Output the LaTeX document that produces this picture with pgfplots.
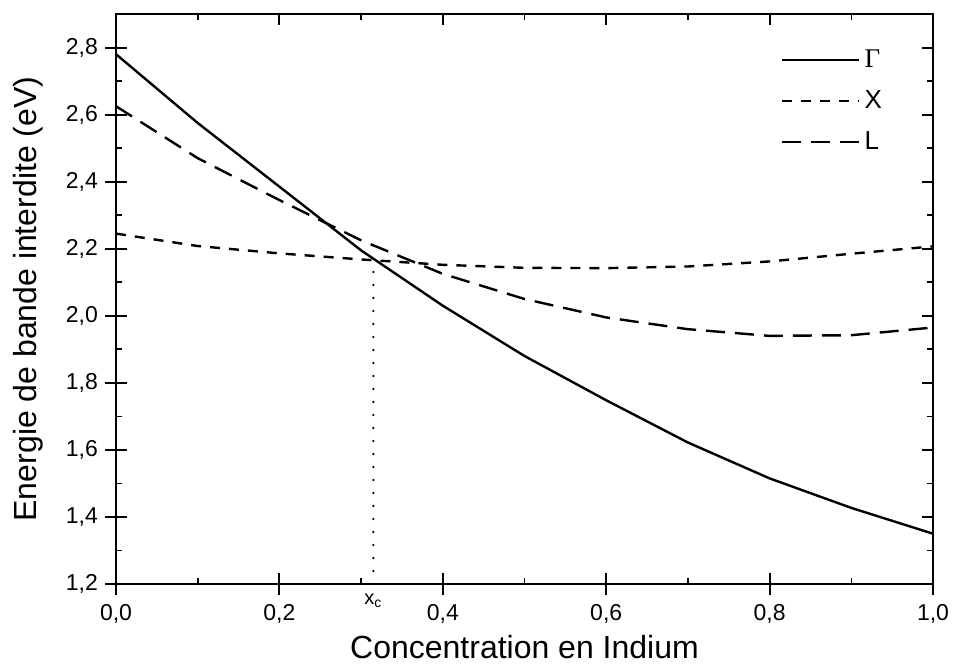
\documentclass[border=0pt]{standalone}
\usepackage{fontspec}
\setmainfont{Liberation Sans}
\newfontfamily\seriffont{Liberation Serif}
\usepackage{pgfplots}
\usepackage{pgfplotstable}
\pgfplotsset{compat=1.18}

\pgfplotstableread{
x    G      X      L
0.0  2.780  2.245  2.625
0.1  2.575  2.208  2.470
0.2  2.385  2.186  2.345
0.3  2.195  2.168  2.225
0.4  2.030  2.152  2.125
0.5  1.880  2.143  2.050
0.6  1.748  2.142  1.995
0.7  1.622  2.147  1.960
0.8  1.515  2.162  1.940
0.9  1.427  2.185  1.942
1.0  1.350  2.207  1.965
}\gaptable

\pgfplotsset{
  common/.style={
    scale only axis,
    width=408.5pt, height=285pt,
    xmin=0, xmax=1, ymin=1.2, ymax=2.9,
    xtick={0,0.2,0.4,0.6,0.8,1.0},
    ytick={1.2,1.4,1.6,1.8,2.0,2.2,2.4,2.6,2.8},
    axis line style={line width=1pt},
    major tick style={line width=1pt, black},
    minor tick style={line width=0.8pt, black},
    major tick length=5.5pt,
    minor tick length=3pt,
  }
}

\begin{document}
\begin{tikzpicture}
\useasboundingbox (-58pt,-40pt) rectangle (420pt,292pt);
% outside half of major ticks on bottom and left
\begin{axis}[common,
  axis x line*=bottom, axis y line*=left,
  tick align=outside,
  xticklabels={}, yticklabels={},
  minor tick num=0,
]
\end{axis}
\begin{axis}[common,
  tick align=inside,
  minor x tick num=1, minor y tick num=1,
  /pgf/number format/use comma,
  /pgf/number format/fixed,
  /pgf/number format/fixed zerofill,
  /pgf/number format/precision=1,
  /pgf/number format/assume math mode=true,
  ticklabel style={font=\fontsize{11.5}{13}\selectfont},
  xticklabel style={yshift=-6.5pt},
  yticklabel style={xshift=-5.5pt},
  extra x ticks={0.315},
  extra x tick labels={x\textsubscript{c}},
  extra x tick style={major tick length=0pt, grid=none,
    tick label style={yshift=5pt, font=\fontsize{10}{12}\selectfont}},
  xlabel={Concentration en Indium},
  xlabel style={at={(axis description cs:0.5,-0.111)}, anchor=center, font=\fontsize{16}{19}\selectfont},
  ylabel={Energie de bande interdite (eV)},
  ylabel style={at={(axis description cs:-0.1077,0.5)}, anchor=center, font=\fontsize{16}{19}\selectfont},
  legend style={draw=none, fill=none, at={(axis description cs:0.943,0.945)}, anchor=north east,
    font=\fontsize{13}{15}\selectfont, row sep=6pt, inner sep=0pt},
  legend cell align=left,
  legend image code/.code={\draw[#1] (0pt,0pt) -- (38.5pt,0pt);},
]
\addplot[black, line width=1.2pt] table[x=x, y=G] {\gaptable};
\addlegendentry{{\seriffont\fontsize{13.5}{15}\selectfont Γ}}
\addplot[black, line width=1.2pt, dash pattern=on 5pt off 4.5pt] table[x=x, y=X] {\gaptable};
\addlegendentry{X}
\addplot[black, line width=1.2pt, dash pattern=on 9.5pt off 5pt] table[x=x, y=L] {\gaptable};
\addlegendentry{L}
\addplot[black, line width=1.3pt, line cap=round, dash pattern=on 0pt off 6.5pt, forget plot]
  coordinates {(0.315,1.2) (0.315,2.165)};
\end{axis}
\end{tikzpicture}
\end{document}
